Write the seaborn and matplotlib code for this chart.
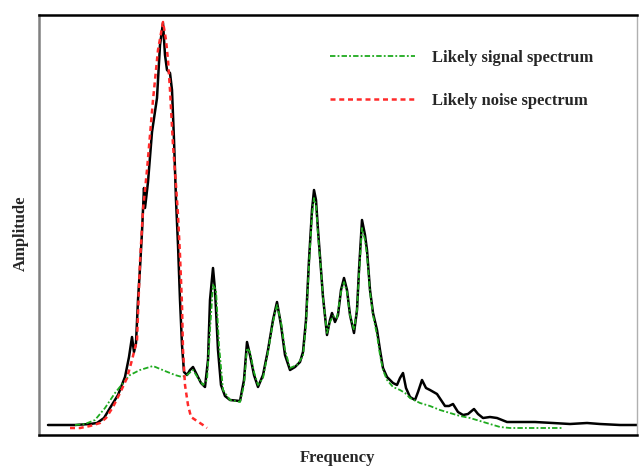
import numpy as np
import pandas as pd
import matplotlib
matplotlib.use("Agg")
import matplotlib.pyplot as plt
import seaborn as sns

# observed spectrum (arbitrary units)
obs_freq = [9, 21, 36, 51, 58, 65, 71, 79, 86, 90, 93, 95, 97, 99, 101, 103, 105, 106, 109, 113,
            118, 121, 124, 126, 128, 131, 133, 135, 137, 139, 141, 143, 145, 148, 151, 154, 158, 162,
            166, 169, 171, 174, 176, 179, 182, 186, 191, 201, 205, 208, 211, 215, 219, 224, 229, 234,
            238, 242, 246, 251, 256, 261, 264, 267, 270, 273, 275, 277, 279, 282, 284, 288, 291, 293,
            296, 299, 302, 305, 308, 311, 315, 318, 320, 323, 326, 328, 331, 334, 338, 341, 344, 348,
            354, 358, 361, 364, 367, 371, 376, 379, 383, 387, 391, 398, 402, 406, 410, 414, 419, 424,
            429, 435, 439, 444, 451, 458, 468, 481, 496, 514, 531, 548, 561, 581, 599]
obs_amp = [10, 10, 10, 11, 12, 17, 27, 40, 58, 78, 98, 83, 92, 135, 167, 203, 247, 227, 253, 303,
           337, 390, 412, 380, 365, 362, 345, 295, 235, 190, 135, 90, 63, 60, 65, 68, 60, 52,
           48, 75, 135, 167, 145, 85, 50, 39, 35, 34, 55, 93, 80, 60, 48, 60, 85, 115,
           133, 110, 80, 65, 68, 73, 83, 115, 175, 225, 245, 235, 205, 165, 138, 100, 115, 122,
           113, 120, 145, 157, 145, 120, 102, 125, 165, 215, 200, 185, 145, 122, 105, 85, 67, 58,
           52, 50, 57, 62, 47, 38, 35, 43, 55, 47, 45, 41, 35, 29, 29, 31, 23, 20,
           21, 26, 21, 17, 18, 17, 13, 13, 13, 12, 11, 12, 11, 10, 10]

# likely signal spectrum
sig_freq = [36, 46, 56, 66, 76, 84, 91, 101, 114, 126, 136, 143, 148, 154, 159, 164, 168, 171, 174,
            177, 180, 184, 191, 201, 205, 208, 211, 215, 219, 224, 229, 234, 238, 242, 246, 251, 258,
            264, 267, 270, 273, 275, 277, 279, 282, 284, 288, 291, 294, 298, 302, 305, 308, 311, 315,
            318, 320, 323, 326, 328, 331, 334, 338, 341, 344, 348, 354, 361, 366, 371, 381, 391, 401,
            411, 421, 431, 441, 451, 461, 471, 491, 506, 524]
sig_amp = [10, 11, 15, 27, 42, 52, 60, 65, 69, 64, 60, 58, 60, 65, 57, 50, 55, 105, 150,
           145, 90, 45, 35, 33, 50, 87, 83, 63, 50, 57, 83, 113, 130, 113, 85, 67, 70,
           79, 110, 170, 220, 237, 230, 200, 165, 137, 102, 113, 119, 117, 143, 153, 143, 120, 105,
           125, 160, 207, 195, 180, 143, 120, 100, 80, 65, 55, 48, 45, 42, 37, 32, 29, 25,
           22, 19, 17, 14, 11, 8, 7, 7, 7, 7]

# likely noise spectrum
noise_freq = [31, 41, 51, 61, 67, 74, 81, 88, 93, 98, 101, 104, 108, 114, 119, 124, 127, 129, 131,
              134, 137, 139, 141, 143, 144, 146, 149, 152, 158, 164, 168]
noise_amp = [7, 7, 9, 12, 17, 28, 42, 57, 75, 95, 173, 225, 265, 335, 385, 413, 395, 375, 345,
             290, 250, 220, 180, 130, 85, 50, 30, 18, 14, 10, 7]

sns.set_style("white")
plt.rcParams["font.family"] = ["Liberation Serif", "DejaVu Serif"]

obs = pd.DataFrame({"freq": obs_freq, "amp": obs_amp})
sig = pd.DataFrame({"freq": sig_freq, "amp": sig_amp})
noise = pd.DataFrame({"freq": noise_freq, "amp": noise_amp})

fig = plt.figure(figsize=(6.4, 4.67), dpi=100)
ax = fig.add_axes([39 / 640, 1 - 435 / 467, 598 / 640, 420 / 467])

sns.lineplot(data=obs, x="freq", y="amp", ax=ax, color="black", lw=1.8,
             estimator=None, sort=False)
sns.lineplot(data=sig, x="freq", y="amp", ax=ax, color="#1faa1f", lw=1.3,
             estimator=None, sort=False, label="Likely signal spectrum")
sns.lineplot(data=noise, x="freq", y="amp", ax=ax, color="#ff2a2a", lw=1.8,
             estimator=None, sort=False, label="Likely noise spectrum")
ax.lines[1].set_linestyle((0, (3, 1.2, 1, 1.2)))
ax.lines[2].set_linestyle((0, (2, 1.5)))

ax.set_xlim(0, 598)
ax.set_ylim(0, 420)
ax.set_xticks([])
ax.set_yticks([])
ax.set_xlabel("Frequency", fontsize=12, fontweight="bold")
ax.set_ylabel("Amplitude", fontsize=12, fontweight="bold")
ax.xaxis.set_label_coords(0.50, -0.035)
ax.yaxis.set_label_coords(-0.017, 0.48)

for side in ["top", "bottom"]:
    ax.spines[side].set_color("black")
    ax.spines[side].set_linewidth(1.8)
ax.spines["left"].set_color("#808080")
ax.spines["left"].set_linewidth(1.8)
ax.spines["right"].set_color("#b0b0b0")
ax.spines["right"].set_linewidth(1.0)

leg = ax.legend(loc="upper left", bbox_to_anchor=((330 - 39) / 598, (435 - 50) / 420),
                frameon=False, prop={"size": 12, "weight": "bold"}, handlelength=5.1,
                handletextpad=1.0, labelspacing=1.6, borderpad=0, borderaxespad=0)

fig.savefig("out.png", dpi=100)
